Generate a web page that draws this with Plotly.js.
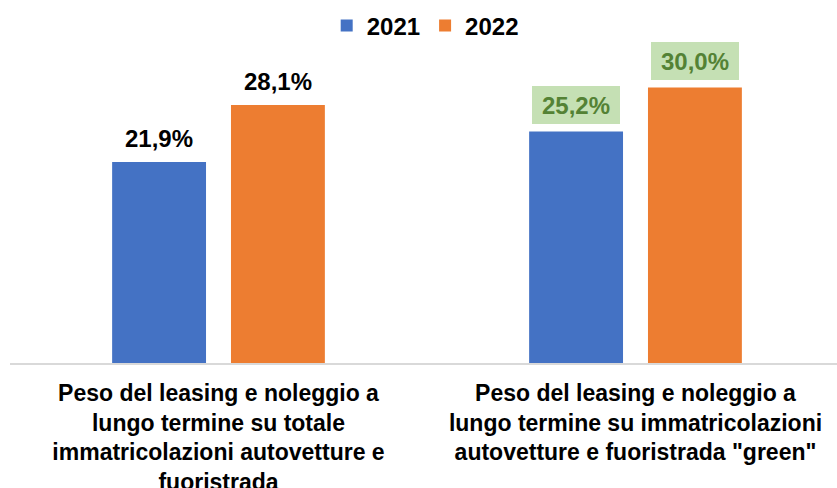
<!DOCTYPE html>
<html>
<head>
<meta charset="utf-8">
<script src="https://cdn.plot.ly/plotly-3.0.1.min.js"></script>
<style>html,body{margin:0;padding:0;background:#fff;}#chart{width:837px;height:488px;}</style>
</head>
<body>
<div id="chart"></div>
<script>
const categories = [
  'Peso del leasing e noleggio a<br>lungo termine su totale<br>immatricolazioni autovetture e<br>fuoristrada',
  'Peso del leasing e noleggio a<br>lungo termine su immatricolazioni<br>autovetture e fuoristrada "green"'
];
const seriesNames = ['2021', '2022'];
const values2021 = [21.9, 25.2];
const values2022 = [28.1, 30.0];

const colors = ['#4472c4', '#ed7d31'];
const FONT = 'Liberation Sans, Arial, sans-serif';
const allValues = [values2021, values2022];

const traces = allValues.map((vals, i) => ({
  type: 'bar',
  name: seriesNames[i],
  x: categories,
  y: vals,
  marker: {color: colors[i]},
  hoverinfo: 'skip'
}));

const barOffset = 59.4;
const annotations = [];
allValues.forEach((vals, s) => {
  vals.forEach((v, c) => {
    const boxed = c === 1;
    annotations.push({
      x: categories[c],
      y: v,
      xref: 'x', yref: 'y',
      xshift: (s === 0 ? -barOffset : barOffset),
      yshift: boxed ? 8 : 5,
      yanchor: 'bottom',
      showarrow: false,
      text: v.toFixed(1).replace('.', ',') + '%',
      font: {family: FONT, size: 24, color: boxed ? '#548235' : '#000000', weight: 'bold'},
      bgcolor: boxed ? '#c5e0b4' : 'rgba(0,0,0,0)',
      borderpad: 0,
      borderwidth: 0,
      width: 88,
      height: 38
    });
  });
});

const plotWidth = 837 - 10;
const layout = {
  width: 837,
  height: 488,
  margin: {l: 10, r: 0, t: 60, b: 125},
  paper_bgcolor: '#ffffff',
  plot_bgcolor: '#ffffff',
  barmode: 'group',
  bargap: 0.43,
  bargroupgap: 0.21,
  font: {family: FONT, color: '#000'},
  showlegend: true,
  legend: {
    orientation: 'h',
    xref: 'container', yref: 'container',
    x: 0.508, xanchor: 'center',
    y: 1 - 26 / 488, yanchor: 'middle',
    font: {family: FONT, size: 24, color: '#000', weight: 'bold'},
    traceorder: 'normal'
  },
  xaxis: {
    type: 'category',
    range: [-0.5, -0.5 + plotWidth / 417],
    showline: true,
    linecolor: '#d9d9d9',
    linewidth: 2,
    ticks: '',
    showgrid: false,
    zeroline: false,
    automargin: false,
    fixedrange: true,
    tickfont: {family: FONT, size: 23, color: '#000', weight: 'bold'},
    ticklabelstandoff: 8
  },
  yaxis: {
    range: [0, 33],
    visible: false,
    showgrid: false,
    zeroline: false,
    fixedrange: true
  },
  annotations: annotations
};

Plotly.newPlot('chart', traces, layout, {displayModeBar: false, staticPlot: true});
</script>
</body>
</html>
